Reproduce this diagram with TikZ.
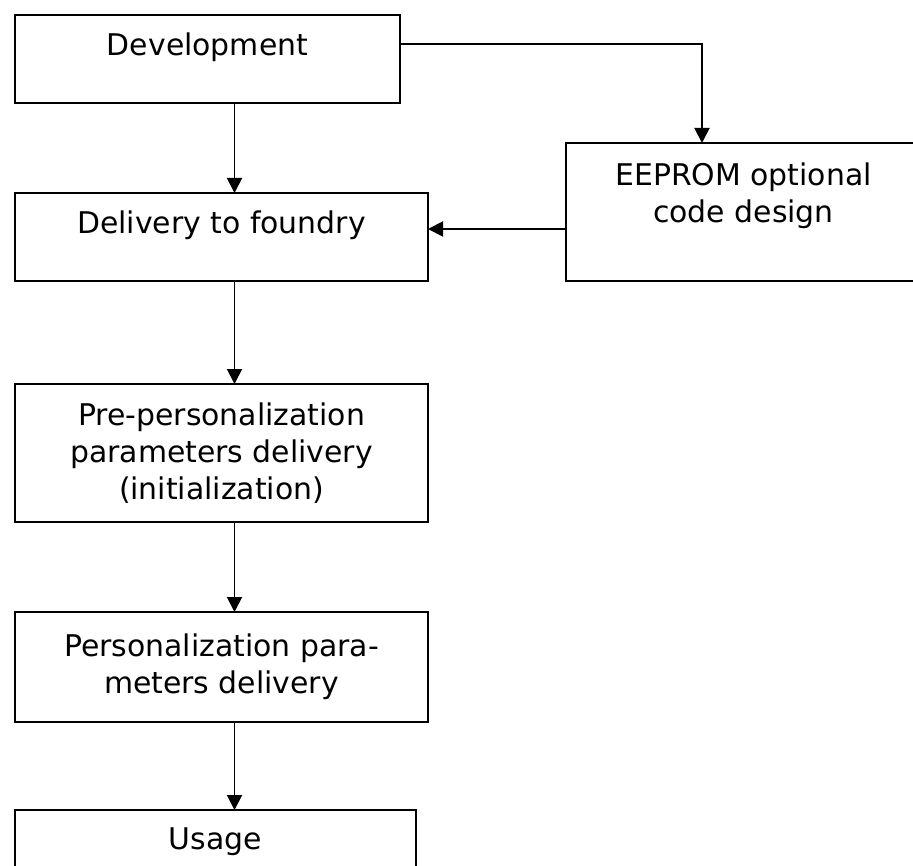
\documentclass[tikz,border=0pt]{standalone}
\usepackage{fontspec}
\setmainfont{DejaVu Sans}
\usepackage{tikz}
\usetikzlibrary{shapes}
\usetikzlibrary{arrows.meta}
\usetikzlibrary{calc}
\tikzstyle{bloc}=[
        rectangle,
        draw,
        line width=1.1pt,
        align=center,
        inner sep=0pt,
        outer sep=0pt,
        font=\fontsize{17}{21}\selectfont
]
\tikzstyle{haut}=[text depth=0.6cm]
\tikzstyle{fleche}=[-{Triangle[length=0.3cm,width=0.3cm]},line width=1.1pt]

\begin{document}
\begin{tikzpicture}
\useasboundingbox (0,0) rectangle (18.26,-17.32);
\node[bloc,haut,minimum width=7.7cm,minimum height=1.76cm] (dev) at (4.15,-1.18) {Development};
\node[bloc,haut,minimum width=8.26cm,minimum height=1.76cm] (livr) at (4.43,-4.74) {Delivery to foundry};
\node[bloc,text depth=0.78cm,minimum width=7.1cm,minimum height=2.76cm] (eeprom) at (14.87,-4.24) {EEPROM optional\\code design};
\node[bloc,minimum width=8.26cm,minimum height=2.76cm] (prepers) at (4.43,-9.06) {Pre-personalization\\parameters delivery\\(initialization)};
\node[bloc,minimum width=8.26cm,minimum height=2.2cm] (pers) at (4.43,-13.34) {Personalization para-\\meters delivery};
\node[bloc,haut,minimum width=8.02cm,minimum height=1.76cm] (usage) at (4.31,-17.08) {Usage};
\coordinate (axe) at (4.69,0);
%Drawing Edges
\draw[fleche] (dev.south -| axe) -- (livr.north -| axe);
\draw[fleche] ([yshift=0.3cm]dev.east) -| ([xshift=-0.83cm]eeprom.north);
\draw[fleche] ([yshift=-0.34cm]eeprom.west) -- ([yshift=-0.34cm]eeprom.west -| livr.east);
\draw[fleche] (livr.south -| axe) -- (prepers.north -| axe);
\draw[fleche] (prepers.south -| axe) -- (pers.north -| axe);
\draw[fleche] (pers.south -| axe) -- (usage.north -| axe);
\end{tikzpicture}
\end{document}
